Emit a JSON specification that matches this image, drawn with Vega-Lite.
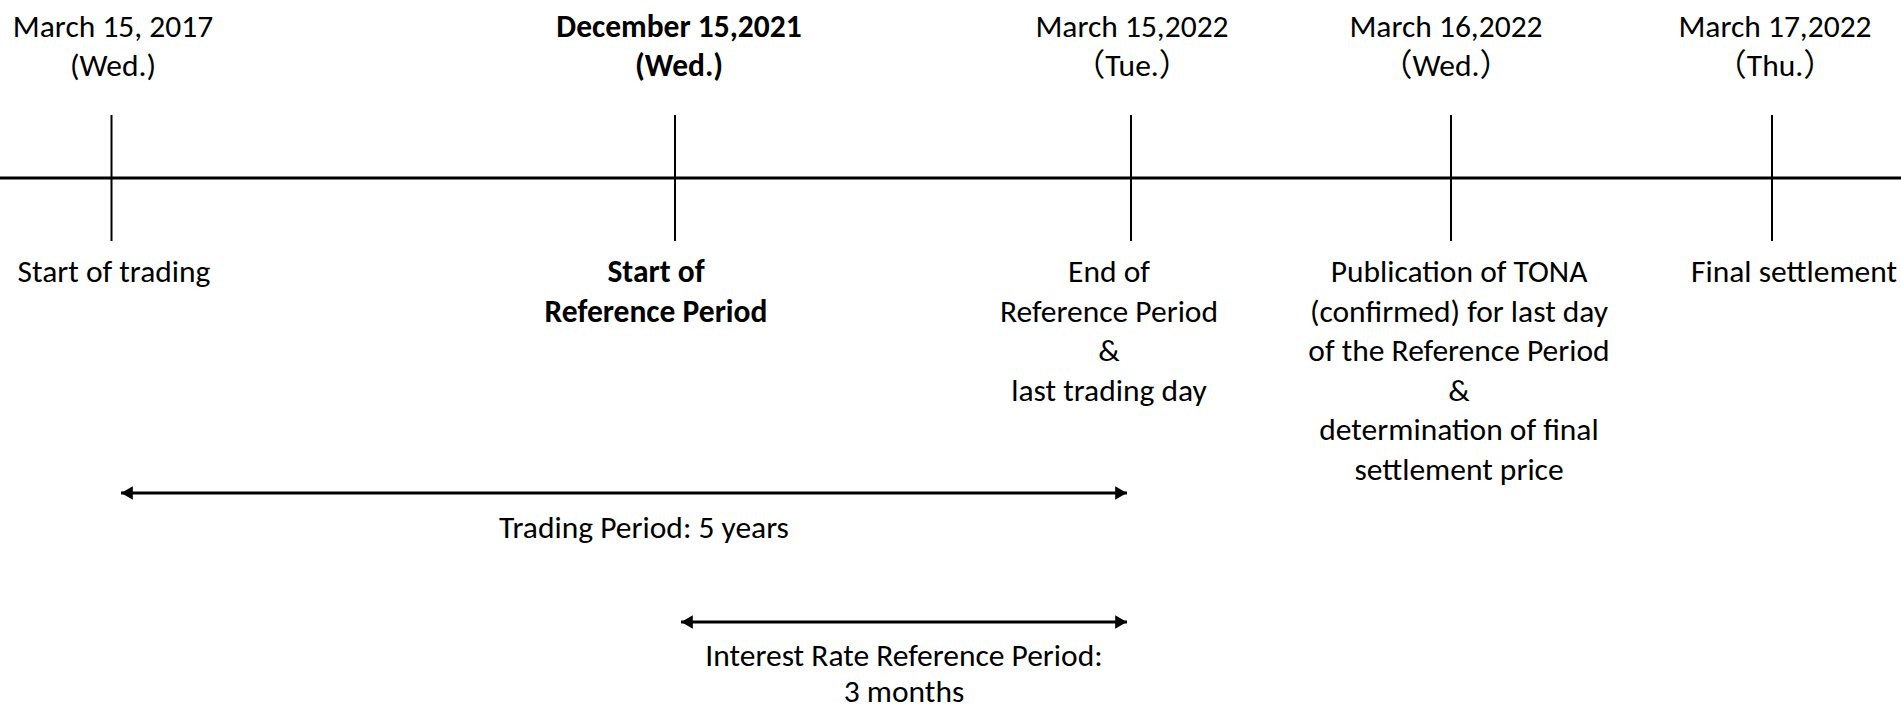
{
  "$schema": "https://vega.github.io/schema/vega-lite/v6.json",
  "autosize": {"type": "none"},
  "width": 1901,
  "height": 705,
  "padding": 0,
  "background": "white",
  "config": {"view": {"stroke": null}, "text": {"font": "Carlito, 'Noto Sans CJK JP', sans-serif", "fontSize": 31.5, "color": "black"}},
  "datasets": {
    "axisline": [{"x1": 0, "x2": 1901, "y": 178}],
    "events": [
      {"tick": 111.5, "tickTop": 115, "tickBottom": 241, "topX": 113, "bottomX": 114, "date": "March 15, 2017\n(Wed.)", "desc": "Start of trading", "bold": false},
      {"tick": 675, "tickTop": 115, "tickBottom": 241, "topX": 679, "bottomX": 656, "date": "December 15,2021\n(Wed.)", "desc": "Start of\nReference Period", "bold": true},
      {"tick": 1131, "tickTop": 115, "tickBottom": 241, "topX": 1132, "bottomX": 1109, "date": "March 15,2022\n（Tue.）", "desc": "End of\nReference Period\n&\nlast trading day", "bold": false},
      {"tick": 1451, "tickTop": 115, "tickBottom": 241, "topX": 1446, "bottomX": 1459, "date": "March 16,2022\n（Wed.）", "desc": "Publication of TONA\n(confirmed) for last day\nof the Reference Period\n&\ndetermination of final\nsettlement price", "bold": false},
      {"tick": 1772, "tickTop": 115, "tickBottom": 241, "topX": 1775, "bottomX": 1794, "date": "March 17,2022\n（Thu.）", "desc": "Final settlement", "bold": false}
    ],
    "periods": [
      {"start": 121, "end": 1127, "y": 493, "labelX": 644, "labelY": 538, "label": "Trading Period: 5 years"},
      {"start": 681, "end": 1127, "y": 622, "labelX": 904, "labelY": 666, "label": "Interest Rate Reference Period:\n3 months"}
    ]
  },
  "layer": [
    {
      "data": {"name": "axisline"},
      "mark": {"type": "rule", "strokeWidth": 3, "color": "black"},
      "encoding": {
        "x": {"field": "x1", "type": "quantitative", "scale": {"domain": [0, 1901], "nice": false, "zero": false}, "axis": null},
        "x2": {"field": "x2"},
        "y": {"field": "y", "type": "quantitative", "scale": {"domain": [0, 705], "reverse": true, "nice": false, "zero": false}, "axis": null}
      }
    },
    {
      "data": {"name": "events"},
      "mark": {"type": "rule", "strokeWidth": 2, "color": "black"},
      "encoding": {
        "x": {"field": "tick", "type": "quantitative"},
        "y": {"field": "tickTop", "type": "quantitative"},
        "y2": {"field": "tickBottom"}
      }
    },
    {
      "data": {"name": "events"},
      "transform": [{"filter": "!datum.bold"}],
      "mark": {"type": "text", "align": "center", "baseline": "alphabetic", "lineBreak": "\n", "lineHeight": 39},
      "encoding": {
        "x": {"field": "topX", "type": "quantitative"},
        "y": {"datum": 37, "type": "quantitative"},
        "text": {"field": "date"}
      }
    },
    {
      "data": {"name": "events"},
      "transform": [{"filter": "datum.bold"}],
      "mark": {"type": "text", "align": "center", "baseline": "alphabetic", "lineBreak": "\n", "lineHeight": 39, "fontWeight": "bold"},
      "encoding": {
        "x": {"field": "topX", "type": "quantitative"},
        "y": {"datum": 37, "type": "quantitative"},
        "text": {"field": "date"}
      }
    },
    {
      "data": {"name": "events"},
      "transform": [{"filter": "!datum.bold"}],
      "mark": {"type": "text", "align": "center", "baseline": "alphabetic", "lineBreak": "\n", "lineHeight": 39.5},
      "encoding": {
        "x": {"field": "bottomX", "type": "quantitative"},
        "y": {"datum": 282, "type": "quantitative"},
        "text": {"field": "desc"}
      }
    },
    {
      "data": {"name": "events"},
      "transform": [{"filter": "datum.bold"}],
      "mark": {"type": "text", "align": "center", "baseline": "alphabetic", "lineBreak": "\n", "lineHeight": 39.5, "fontWeight": "bold"},
      "encoding": {
        "x": {"field": "bottomX", "type": "quantitative"},
        "y": {"datum": 282, "type": "quantitative"},
        "text": {"field": "desc"}
      }
    },
    {
      "data": {"name": "periods"},
      "mark": {"type": "rule", "strokeWidth": 3, "color": "black"},
      "encoding": {
        "x": {"field": "start", "type": "quantitative"},
        "x2": {"field": "end"},
        "y": {"field": "y", "type": "quantitative"}
      }
    },
    {
      "data": {"name": "periods"},
      "mark": {"type": "point", "shape": "triangle-left", "filled": true, "size": 180, "color": "black", "opacity": 1, "xOffset": 6},
      "encoding": {
        "x": {"field": "start", "type": "quantitative"},
        "y": {"field": "y", "type": "quantitative"}
      }
    },
    {
      "data": {"name": "periods"},
      "mark": {"type": "point", "shape": "triangle-right", "filled": true, "size": 180, "color": "black", "opacity": 1, "xOffset": -6},
      "encoding": {
        "x": {"field": "end", "type": "quantitative"},
        "y": {"field": "y", "type": "quantitative"}
      }
    },
    {
      "data": {"name": "periods"},
      "mark": {"type": "text", "align": "center", "baseline": "alphabetic", "lineBreak": "\n", "lineHeight": 36},
      "encoding": {
        "x": {"field": "labelX", "type": "quantitative"},
        "y": {"field": "labelY", "type": "quantitative"},
        "text": {"field": "label"}
      }
    }
  ]
}
